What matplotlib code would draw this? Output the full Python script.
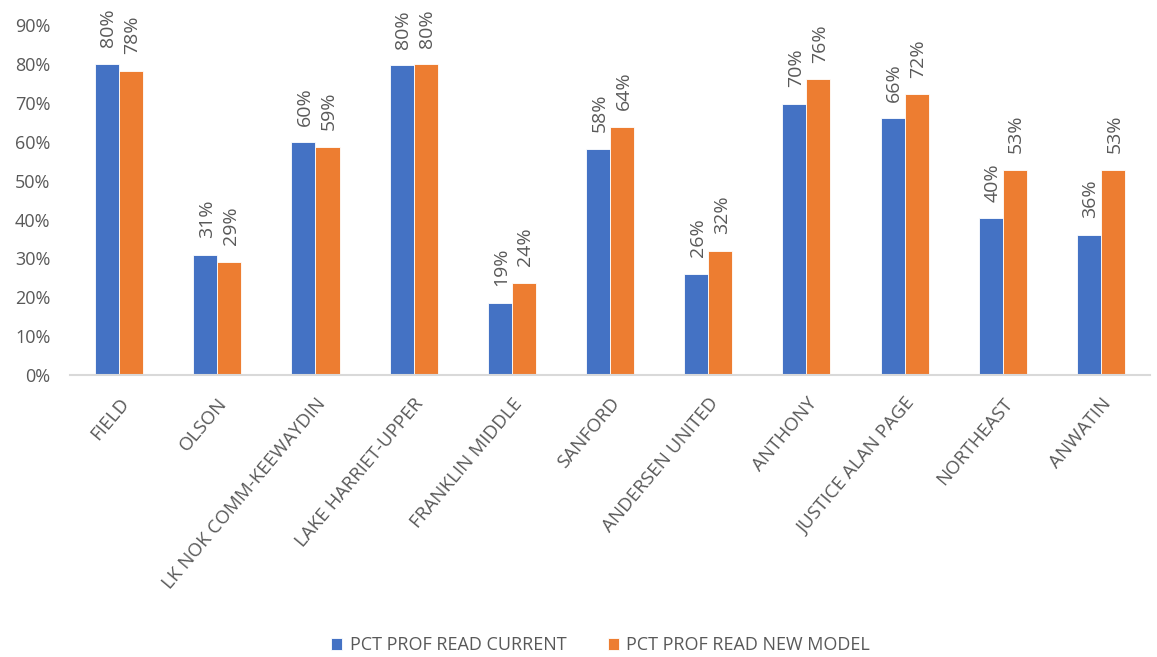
import matplotlib
matplotlib.use("Agg")
import matplotlib.pyplot as plt
import numpy as np

schools = ["FIELD", "OLSON", "LK NOK COMM-KEEWAYDIN", "LAKE HARRIET-UPPER",
           "FRANKLIN MIDDLE", "SANFORD", "ANDERSEN UNITED", "ANTHONY",
           "JUSTICE ALAN PAGE", "NORTHEAST", "ANWATIN"]
current = [0.800, 0.309, 0.598, 0.796, 0.186, 0.582, 0.260, 0.698, 0.660, 0.403, 0.361]
new_model = [0.782, 0.292, 0.586, 0.799, 0.237, 0.639, 0.320, 0.760, 0.722, 0.528, 0.528]
series_names = ["PCT PROF READ CURRENT", "PCT PROF READ NEW MODEL"]
yticks = [0.0, 0.1, 0.2, 0.3, 0.4, 0.5, 0.6, 0.7, 0.8, 0.9]

BLUE = "#4472C4"
ORANGE = "#ED7D31"
TEXT = "#595959"
plt.rcParams["font.family"] = ["Open Sans", "DejaVu Sans"]

fig = plt.figure(figsize=(11.57, 6.57), dpi=100)
ax = fig.add_axes([0.0605, 0.429, 0.9335, 0.533])

x = np.arange(len(schools))
w = 0.245
bars1 = ax.bar(x - w / 2, current, w, color=BLUE, edgecolor="white", linewidth=0.6,
               label=series_names[0])
bars2 = ax.bar(x + w / 2, new_model, w, color=ORANGE, edgecolor="white", linewidth=0.6,
               label=series_names[1])

for bars in (bars1, bars2):
    for b in bars:
        v = b.get_height()
        ax.annotate(f"{v * 100:.0f}%", (b.get_x() + b.get_width() / 2, v),
                    xytext=(1, 12), textcoords="offset points",
                    rotation=90, ha="center", va="bottom",
                    fontsize=14, color=TEXT)

ax.set_xlim(-0.5, len(schools) - 0.5)
ax.set_ylim(0, 0.9)
ax.set_yticks(yticks)
ax.set_yticklabels([f"{t * 100:.0f}%" for t in yticks], fontsize=13, color=TEXT)
ax.set_xticks(x)
ax.set_xticklabels(schools, rotation=50, ha="right", va="top",
                   rotation_mode="anchor", fontsize=13.5, color=TEXT)
ax.tick_params(axis="both", length=0)
ax.tick_params(axis="y", pad=14)
ax.tick_params(axis="x", pad=14)

for s in ("top", "right", "left"):
    ax.spines[s].set_visible(False)
ax.spines["bottom"].set_color("#D9D9D9")
ax.spines["bottom"].set_linewidth(1.5)

leg = fig.legend(loc="center", bbox_to_anchor=(0.519, 0.018), ncol=2, frameon=False,
                 fontsize=13, handlelength=0.6, handleheight=0.6, handletextpad=0.4,
                 columnspacing=2.3)
for t in leg.get_texts():
    t.set_color(TEXT)

fig.savefig("out.png", dpi=100)
